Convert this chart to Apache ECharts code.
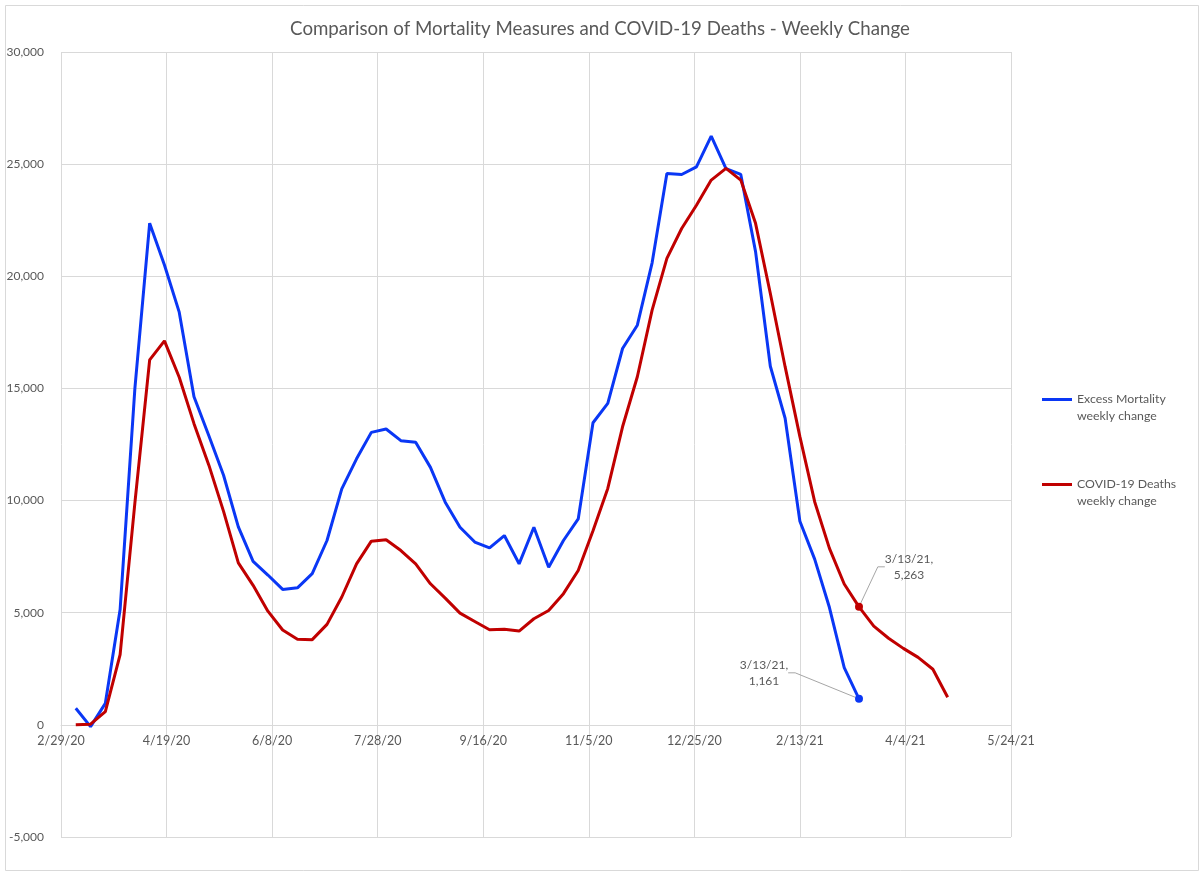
<!DOCTYPE html>
<html><head><meta charset="utf-8">
<script src="https://cdn.jsdelivr.net/npm/echarts@6/dist/echarts.min.js"></script>
<style>html,body{margin:0;padding:0;background:#fff}#c{width:1200px;height:874px}</style>
</head><body><div id="c"></div>
<script>
// Week-ending dates (weekly points)
const weekDates = ['3/7/20','3/14/20','3/21/20','3/28/20','4/4/20','4/11/20','4/18/20','4/25/20','5/2/20','5/9/20',
  '5/16/20','5/23/20','5/30/20','6/6/20','6/13/20','6/20/20','6/27/20','7/4/20','7/11/20','7/18/20',
  '7/25/20','8/1/20','8/8/20','8/15/20','8/22/20','8/29/20','9/5/20','9/12/20','9/19/20','9/26/20',
  '10/3/20','10/10/20','10/17/20','10/24/20','10/31/20','11/7/20','11/14/20','11/21/20','11/28/20','12/5/20',
  '12/12/20','12/19/20','12/26/20','1/2/21','1/9/21','1/16/21','1/23/21','1/30/21','2/6/21','2/13/21',
  '2/20/21','2/27/21','3/6/21','3/13/21','3/20/21','3/27/21','4/3/21','4/10/21','4/17/21','4/24/21'];
// Excess Mortality weekly change
const excessMortality = [740,-80,960,5140,15000,22370,20500,18400,14630,12900,
  11130,8830,7290,6680,6040,6110,6740,8220,10520,11860,
  13040,13190,12670,12600,11480,9930,8810,8150,7890,8440,
  7180,8810,7030,8220,9180,13470,14330,16780,17820,20600,
  24580,24540,24880,26250,24800,24540,21100,15990,13670,9080,
  7390,5230,2550,1161];
// COVID-19 Deaths weekly change
const covidDeaths = [0,30,590,3130,9900,16270,17120,15500,13430,11590,
  9520,7220,6220,5070,4230,3820,3800,4480,5700,7180,
  8190,8250,7770,7180,6290,5650,4980,4610,4240,4260,
  4180,4730,5100,5850,6880,8650,10540,13290,15520,18490,
  20800,22130,23170,24290,24810,24290,22360,19230,15970,12850,
  9950,7870,6280,5263,4400,3860,3410,3010,2480,1230];
const xTickLabels = ['2/29/20','4/19/20','6/8/20','7/28/20','9/16/20','11/5/20','12/25/20','2/13/21','4/4/21','5/24/21'];
const yMin = -5000, yMax = 30000, yStep = 5000;
const seriesNames = ['Excess Mortality\nweekly change','COVID-19 Deaths\nweekly change'];
const labelledDate = '3/13/21';

const fmtNum = v => Math.round(v).toLocaleString('en-US');
const parseDate = s => { const [m,d,y] = s.split('/').map(Number); return Date.UTC(2000+y, m-1, d); };
const origin = parseDate(xTickLabels[0]);
const dayOf = s => Math.round((parseDate(s) - origin) / 86400000);
const tickStep = dayOf(xTickLabels[1]);
const labelIdx = weekDates.indexOf(labelledDate);

function buildData(values) {
  return values.map((v, i) => {
    const pt = [dayOf(weekDates[i]), v];
    if (i !== labelIdx) return pt;
    return {
      value: pt, symbol: 'circle', symbolSize: 8,
      label: { show: true, formatter: weekDates[i] + ',\n' + fmtNum(v) }
    };
  });
}

const colors = ['#0A37F5', '#C00000'];
const textColor = '#595959';
const FONT = 'Lato, "Open Sans", sans-serif';
const W = 1200, H = 874;
const grid = { left: 61, right: 189, top: 52, bottom: 37 };
const gridH = H - grid.top - grid.bottom;
// place the x axis (line + labels) at y = 0
const xAxisOffset = -gridH * (0 - yMin) / (yMax - yMin);

const chart = echarts.init(document.getElementById('c'), null, {renderer: 'canvas'});
chart.setOption({
  animation: false,
  backgroundColor: '#fff',
  textStyle: { fontFamily: FONT },
  title: {
    text: 'Comparison of Mortality Measures and COVID-19 Deaths - Weekly Change',
    left: 'center', top: 14,
    textStyle: { fontSize: 18.7, fontWeight: 'normal', color: textColor, fontFamily: FONT }
  },
  graphic: [{
    type: 'rect', left: 3, top: 3, z: -1,
    shape: { width: 1193, height: 865 },
    style: { fill: 'none', stroke: '#D9D9D9', lineWidth: 1 }
  }],
  legend: {
    data: seriesNames, orient: 'vertical', left: 1042, top: 374, padding: 0,
    icon: 'rect', itemWidth: 30, itemHeight: 3, itemGap: 34,
    formatter: n => ' \n' + n,
    textStyle: { color: textColor, fontSize: 12.3, lineHeight: 17, fontFamily: FONT }
  },
  grid: grid,
  xAxis: {
    type: 'value', min: 0, max: tickStep * (xTickLabels.length - 1), interval: tickStep,
    offset: xAxisOffset,
    axisLine: { show: true, onZero: false, lineStyle: { color: '#D9D9D9' } },
    axisTick: { show: false },
    splitLine: { show: true, lineStyle: { color: '#D9D9D9' } },
    axisLabel: {
      color: textColor, fontSize: 12.5, margin: 10, fontFamily: FONT,
      formatter: v => xTickLabels[Math.round(v / tickStep)] || ''
    }
  },
  yAxis: {
    type: 'value', min: yMin, max: yMax, interval: yStep,
    axisLine: { show: false }, axisTick: { show: false },
    splitLine: { lineStyle: { color: '#D9D9D9' } },
    axisLabel: { color: textColor, fontSize: 12, margin: 17, fontFamily: FONT, formatter: v => fmtNum(v) }
  },
  series: [excessMortality, covidDeaths].map((vals, s) => ({
    name: seriesNames[s], type: 'line', data: buildData(vals),
    symbol: 'none', showSymbol: true,
    lineStyle: { width: 3, color: colors[s] },
    itemStyle: { color: colors[s] },
    label: { show: false, color: textColor, fontSize: 12, lineHeight: 16, align: 'center', fontFamily: FONT },
    labelLine: { show: true, length2: 7, lineStyle: { color: '#A6A6A6', width: 1 } },
    labelLayout: p => {
      if (p.dataIndex !== labelIdx) return {};
      const cx = p.rect.x + p.rect.width / 2, cy = p.rect.y + p.rect.height / 2;
      return s === 0
        ? { x: cx - 95, y: cy - 26, align: 'center', verticalAlign: 'middle' }
        : { x: cx + 50, y: cy - 40, align: 'center', verticalAlign: 'middle' };
    }
  }))
});
</script></body></html>
